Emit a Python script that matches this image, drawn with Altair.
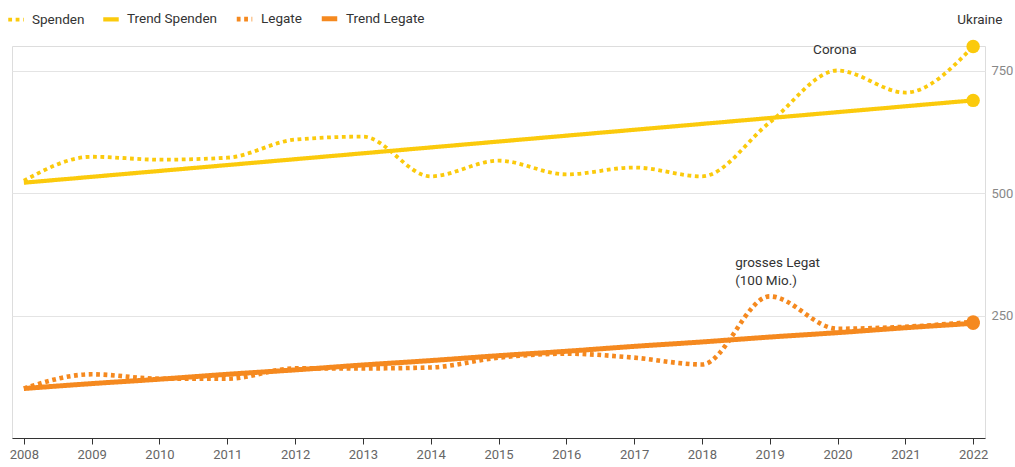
import altair as alt
import pandas as pd

years = list(range(2008, 2023))
spenden = [525, 574, 568, 572, 609, 615, 534, 566, 538, 552, 534, 644, 750, 705, 799]
trend_spenden = [521, 533, 545, 557, 569, 581, 593, 605, 617, 629, 641, 653, 665, 677, 689]
legate = [101, 130, 121, 121, 142, 142, 144, 164, 172, 164, 150, 289, 223, 227, 237]
trend_legate = [101, 111, 120, 130, 139, 149, 158, 168, 177, 187, 196, 206, 215, 225, 234]

series_names = ["Spenden", "Trend Spenden", "Legate", "Trend Legate"]
series_colors = ["#fbca0c", "#fbca0c", "#f5891f", "#f5891f"]

ann_text = ["Ukraine", "Corona", "grosses Legat", "(100 Mio.)"]
ann_year = [2022.1, 2019.96, 2018.49, 2018.49]
ann_value = [853, 791, 358, 321]
ann_align = ["center", "center", "left", "left"]

rows = []
for name, vals in zip(series_names, [spenden, trend_spenden, legate, trend_legate]):
    for y, v in zip(years, vals):
        rows.append({"year": y, "value": v, "series": name})
df = pd.DataFrame(rows)
ends = df[df["year"] == 2022]
ann = pd.DataFrame({"text": ann_text, "year": ann_year, "value": ann_value, "align": ann_align})

FONT = "Roboto"

x = alt.X("year:Q", scale=alt.Scale(domain=[2007.825, 2022.175], nice=False, zero=False),
          axis=alt.Axis(values=years, format="d", title=None, grid=False,
                        domainColor="#333333", tickColor="#333333", tickSize=6,
                        labelColor="#666666", labelFontSize=13, labelFont=FONT,
                        labelPadding=4))
y = alt.Y("value:Q", scale=alt.Scale(domain=[0, 800], nice=False),
          axis=alt.Axis(orient="right", values=[250, 500, 750], title=None,
                        domain=False, ticks=False, gridColor="#e4e4e4",
                        labelColor="#888888", labelFontSize=13, labelFont=FONT,
                        labelPadding=6))

lines = alt.Chart(df).mark_line(interpolate="monotone", strokeCap="butt").encode(
    x=x, y=y,
    color=alt.Color("series:N", scale=alt.Scale(domain=series_names, range=series_colors),
                    legend=alt.Legend(orient="none", legendX=-6, legendY=-38, direction="horizontal",
                                      title=None, symbolType="stroke", symbolStrokeWidth=4,
                                      symbolSize=240, labelFontSize=13.5, labelFont=FONT,
                                      labelColor="#333333", columnPadding=9, labelOffset=6)),
    strokeDash=alt.StrokeDash("series:N", scale=alt.Scale(domain=series_names,
                              range=[[3.8, 3.6], [1, 0], [3.8, 3.6], [1, 0]]), legend=None),
    strokeWidth=alt.StrokeWidth("series:N", scale=alt.Scale(domain=series_names,
                                range=[3.8, 5, 3.8, 5]), legend=None),
)

dots = alt.Chart(ends).mark_circle(opacity=1, size=180).encode(
    x=x, y=y,
    color=alt.Color("series:N", scale=alt.Scale(domain=series_names, range=series_colors), legend=None),
)

labels_c = alt.Chart(ann).transform_filter(alt.datum.align == "center").mark_text(
    fontSize=13.5, font=FONT, color="#333333", align="center").encode(x=x, y=y, text="text:N")
labels_l = alt.Chart(ann).transform_filter(alt.datum.align == "left").mark_text(
    fontSize=13.5, font=FONT, color="#333333", align="left").encode(x=x, y=y, text="text:N")

chart = alt.layer(lines, dots, labels_c, labels_l).properties(
    width=973, height=392,
    autosize=alt.AutoSizeParams(type="none"),
    padding={"left": 12, "top": 46, "right": 30, "bottom": 29},
).configure_view(stroke=None).configure(background="white")

chart.save("out.html", embed_options={"renderer": "svg", "actions": False})
